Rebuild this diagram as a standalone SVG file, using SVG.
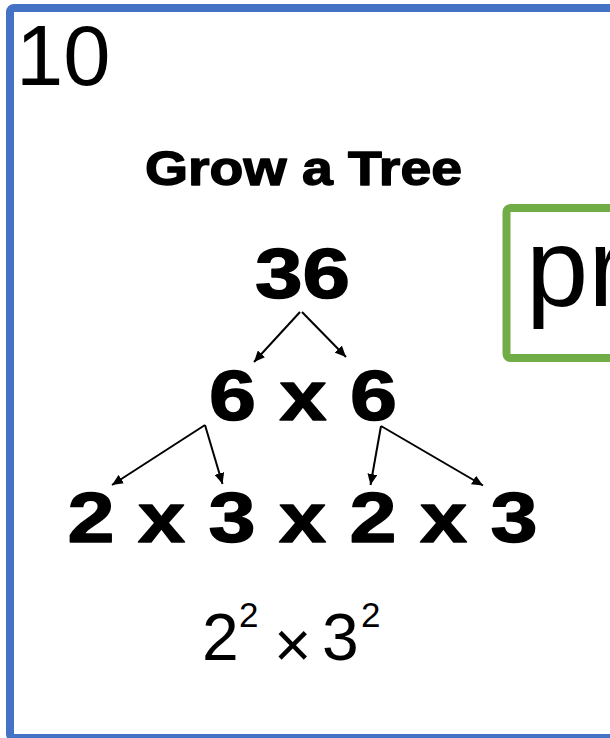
<svg xmlns="http://www.w3.org/2000/svg" width="610" height="738" viewBox="0 0 610 738">
  <style>
    .reg { font-family: "Liberation Sans", Arial, sans-serif; fill: #000; }
    .bold { font-family: "Liberation Sans", Arial, sans-serif; font-weight: bold; fill: #000; stroke: #000; stroke-width: 1.4; stroke-linejoin: round; }
    .arrow { stroke: #000; stroke-width: 2; fill: none; marker-end: url(#ah); }
  </style>
  <defs>
    <marker id="ah" markerUnits="userSpaceOnUse" markerWidth="12" markerHeight="10" refX="11" refY="5" orient="auto">
      <path d="M0,0 L11,5 L0,10 Z" fill="#000"/>
    </marker>
  </defs>
  <rect x="0" y="0" width="610" height="738" fill="#fff"/>
  <g id="frame">
    <rect x="10" y="8" width="640" height="730" rx="4" fill="none" stroke="#4472C4" stroke-width="8"/>
  </g>
  <g id="slide-number">
    <text class="reg" x="16" y="85" font-size="85">10</text>
  </g>
  <g id="pr-box">
    <rect x="506.5" y="208" width="140" height="150" rx="4" fill="none" stroke="#70AD47" stroke-width="8"/>
    <text class="reg" x="526" y="306" font-size="112">pr</text>
  </g>
  <g id="title">
    <text class="bold" x="145" y="185" font-size="49" textLength="317" lengthAdjust="spacingAndGlyphs">Grow a Tree</text>
  </g>
  <g id="n36">
    <text class="bold" x="302.5" y="298" font-size="71" text-anchor="middle" textLength="95" lengthAdjust="spacingAndGlyphs">36</text>
  </g>
  <g id="n6x6">
    <text class="bold" x="303" y="420" font-size="71" text-anchor="middle" textLength="188" lengthAdjust="spacingAndGlyphs">6 x 6</text>
  </g>
  <g id="n2x3x2x3">
    <text class="bold" x="302.5" y="542" font-size="71" text-anchor="middle" textLength="470" lengthAdjust="spacingAndGlyphs">2 x 3 x 2 x 3</text>
  </g>
  <g id="result">
    <text class="reg" x="202" y="660" font-size="66">2</text>
    <text class="reg" x="239" y="627" font-size="35">2</text>
    <text class="reg" x="274" y="667" font-size="64">×</text>
    <text class="reg" x="322" y="660" font-size="66">3</text>
    <text class="reg" x="361" y="627" font-size="35">2</text>
  </g>
  <g id="connectors">
    <line class="arrow" x1="300" y1="312" x2="254" y2="362"/>
    <line class="arrow" x1="302" y1="312" x2="346" y2="357"/>
    <line class="arrow" x1="205" y1="425" x2="112" y2="485"/>
    <line class="arrow" x1="205" y1="425" x2="222.5" y2="484"/>
    <line class="arrow" x1="381" y1="426" x2="370.5" y2="485"/>
    <line class="arrow" x1="381" y1="426" x2="483" y2="485.5"/>
  </g>
</svg>
